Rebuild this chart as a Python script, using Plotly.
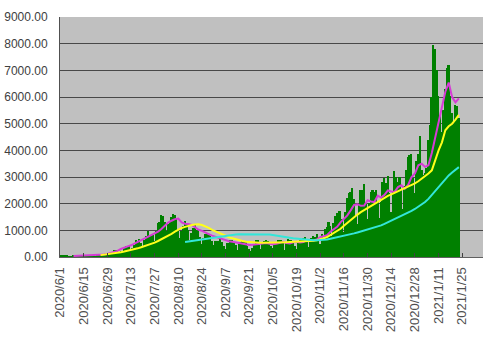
import pandas as pd
import plotly.graph_objects as go

# Daily values (2020/6/1 .. 2021/1/23)
jun = [38,51,38,45,40,37,37,17,39,41,44,43,50,72,53,41,56,41,68,41,58,32,58,96,79,105,92,111,86,117]
jul = [128,195,250,274,207,157,207,201,355,430,385,408,251,333,455,623,594,664,509,418,
       631,795,981,770,839,818,598,981,1264,1301,1580]
aug = [1536,1331,958,1237,1354,1485,1605,1566,1442,1019,700,966,1176,1360,1230,1010,632,902,1072,1190,
       1031,1010,740,482,711,850,860,851,784,600,436]
sep = [598,590,600,670,550,428,286,508,510,650,640,580,437,270,501,546,600,550,579,420,
       299,219,350,481,638,640,450,300,510,600]
oct_ = [630,590,560,410,330,500,500,620,630,650,520,270,530,680,620,630,600,420,290,550,
        630,630,700,740,560,380,550,710,800,760,860]
nov = [610,490,860,700,1050,1120,1330,1160,790,1270,1550,1650,1720,1730,1440,950,1700,2200,2390,2420,
       2590,2170,1520,1230,1950,2500,2510,2750,2050,1430]
dec = [2030,2430,2510,2440,2500,2050,1480,2050,2800,2970,2790,3040,2400,1680,2430,3210,3000,2830,2990,2500,
       1800,2650,3270,3740,3820,3880,2950,2400,3600,3850,4520]
jan = [3250,3060,3150,3320,4400,4950,6000,7950,7800,7000,6050,5300,4700,5500,6300,7100,7200,6050,5400,5000,
       5700,5650,5200]
daily_cases = jun + jul + aug + sep + oct_ + nov + dec + jan

# Line series, one value every 2 days from 2020/6/1
avg_short = [None, None, None, None,
    40,45,50,55,55,55,55,55,70,90,110,150,190,230,300,360,400,440,500,560,640,700,760,820,880,950,
    1050,1170,1290,1360,1420,1440,1300,1250,1240,1200,1120,1020,980,930,860,800,760,720,680,620,
    590,570,550,520,500,470,450,460,480,500,510,520,500,480,500,540,560,520,510,550,
    570,540,560,620,640,620,660,740,780,820,950,1050,1130,1300,1440,1560,1750,1950,1980,1920,
    1930,2130,2080,2060,2300,2230,2330,2500,2460,2440,2620,2690,2560,2700,3000,3130,3440,3500,3380,3440,
    3900,4500,5130,5700,6200,6540,6000,5800,5950]
avg_mid = [None]*12 + [
    70,85,100,115,135,155,180,205,230,260,290,325,365,405,445,490,540,600,660,730,
    800,870,950,1030,1090,1130,1170,1200,1220,1230,1200,1150,1090,1020,960,900,850,790,740,700,
    660,630,600,575,560,550,540,535,530,530,530,535,540,545,550,555,560,565,570,575,
    580,588,598,612,632,660,700,750,820,900,970,1060,1170,1280,1390,1490,1590,1680,1760,1840,
    1920,2000,2070,2140,2220,2290,2350,2410,2460,2510,2560,2620,2690,2760,2840,2930,3020,3130,3250,3650,
    4000,4300,4750,4900,5000,5150,5330]
avg_long = [None]*37 + [
    560,580,600,620,640,655,670,685,700,720,745,775,805,825,840,848,852,855,857,858,
    858,857,855,852,848,840,825,805,785,765,745,725,705,688,672,658,645,635,628,625,
    628,640,660,685,710,735,760,790,820,850,885,920,955,990,1025,1060,1095,1140,1185,1240,
    1300,1350,1410,1460,1520,1590,1660,1730,1800,1880,1960,2060,2180,2330,2480,2640,2790,2930,3060,3170,
    3270,3370]

tick_dates = ["2020-06-01","2020-06-15","2020-06-29","2020-07-13","2020-07-27","2020-08-10",
              "2020-08-24","2020-09-07","2020-09-21","2020-10-05","2020-10-19","2020-11-02",
              "2020-11-16","2020-11-30","2020-12-14","2020-12-28","2021-01-11","2021-01-25"]
tick_labels = ["2020/6/1","2020/6/15","2020/6/29","2020/7/13","2020/7/27","2020/8/10",
               "2020/8/24","2020/9/7","2020/9/21","2020/10/5","2020/10/19","2020/11/2",
               "2020/11/16","2020/11/30","2020/12/14","2020/12/28","2021/1/11","2021/1/25"]

day_dates = pd.date_range("2020-06-01", periods=len(daily_cases), freq="D")
line_dates = pd.date_range("2020-06-01", periods=len(avg_short), freq="2D")

fig = go.Figure()
fig.add_trace(go.Bar(x=day_dates, y=daily_cases, marker=dict(color="#008000", line=dict(width=0))))
fig.add_trace(go.Scatter(x=line_dates, y=avg_short, mode="lines", line=dict(color="#d63bd6", width=2)))
fig.add_trace(go.Scatter(x=line_dates, y=avg_mid, mode="lines", line=dict(color="#ffff1a", width=2)))
fig.add_trace(go.Scatter(x=line_dates, y=avg_long, mode="lines", line=dict(color="#33e6d9", width=2)))

font = "Liberation Sans, Arial, sans-serif"
fig.update_layout(
    width=500, height=338,
    margin=dict(l=60, r=17, t=17, b=81, pad=0),
    paper_bgcolor="white", plot_bgcolor="#c0c0c0",
    showlegend=False, bargap=0,
    font=dict(family=font, size=12, color="#404040"),
)
fig.update_xaxes(
    type="date", range=["2020-06-01", "2021-02-06 07:00"], automargin=False,
    tickvals=tick_dates, ticktext=tick_labels, tickangle=-90,
    ticks="inside", ticklen=4, tickcolor="#404040",
    showgrid=False, showline=True, linecolor="#606060", linewidth=1,
    tickfont=dict(size=13, color="#505050"), ticklabelstandoff=4,
)
fig.update_yaxes(
    range=[0, 9000], dtick=1000, tickformat=".2f", automargin=False,
    showgrid=True, gridcolor="#484848", gridwidth=1,
    showline=True, linecolor="#505050", linewidth=1,
    zeroline=False, ticks="", ticklabelstandoff=9,
    tickfont=dict(size=12, color="#404040"),
)
fig.write_html("out.html")
